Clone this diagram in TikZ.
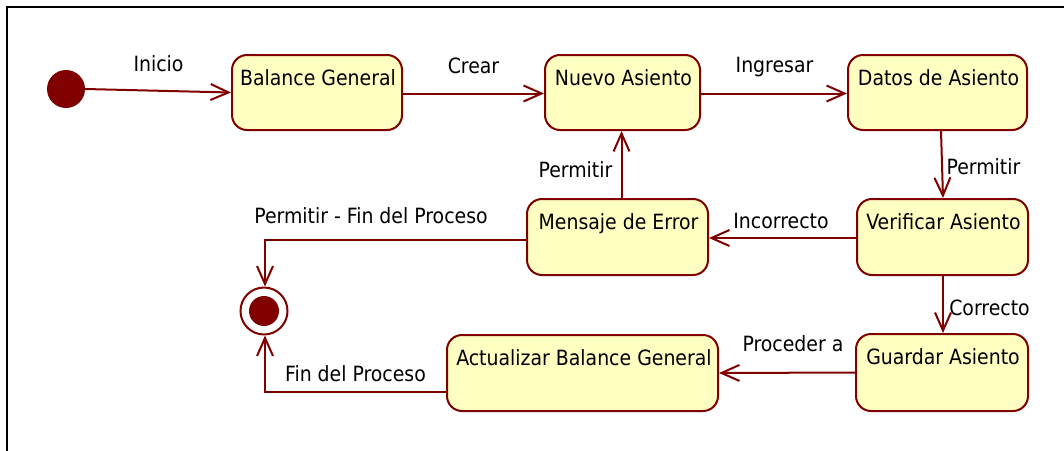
\documentclass[tikz,border=0pt]{standalone}
\usepackage{fontspec}
\setmainfont{DejaVu Sans Condensed}
\usetikzlibrary{arrows.meta}
\definecolor{umlred}{RGB}{128,0,0}
\definecolor{umlfill}{RGB}{255,255,194}
\begin{document}
\begin{tikzpicture}[x=1pt,y=-1pt,
  every node/.style={font=\fontsize{21}{24}\selectfont, text=black},
  statebox/.style={draw=umlred, fill=umlfill, line width=2pt, rounded corners=15pt, inner sep=0pt},
  stxt/.style={anchor=base, inner sep=0pt},
  lbl/.style={anchor=base, inner sep=0pt},
  arr/.style={draw=umlred, line width=2pt, -{Straight Barb[length=18pt,width=16pt,line width=2pt]}},
  initstate/.style={circle, fill=umlred, minimum size=38pt, inner sep=0pt},
  finstate/.style={circle, draw=umlred, line width=2pt, fill=white, minimum size=47pt, inner sep=0pt},
  finin/.style={circle, fill=umlred, minimum size=30pt, inner sep=0pt}
]
\useasboundingbox (0,0) rectangle (1064,450);
% frame
\draw[line width=2pt, black] (7,452) -- (7,7) -- (1066,7);

% states
\node[statebox, minimum width=170pt, minimum height=75pt] (bal) at (317,92.5) {};
\node[stxt] (balt) at (318,85) {Balance General};
\node[statebox, minimum width=155pt, minimum height=75pt] (nuevo) at (622.5,92.5) {};
\node[stxt] (nuevot) at (623.5,85) {Nuevo Asiento};
\node[statebox, minimum width=179pt, minimum height=75pt] (datos) at (937.5,92.5) {};
\node[stxt] (datost) at (938.5,85) {Datos de Asiento};
\node[statebox, minimum width=171pt, minimum height=76pt] (verif) at (942.5,237) {};
\node[stxt] (verift) at (943.5,229) {Verificar Asiento};
\node[statebox, minimum width=181pt, minimum height=76pt] (mens) at (617.5,237) {};
\node[stxt] (menst) at (618.5,229) {Mensaje de Error};
\node[statebox, minimum width=172pt, minimum height=77pt] (guard) at (942,372.5) {};
\node[stxt] (guardt) at (943,364) {Guardar Asiento};
\node[statebox, minimum width=271pt, minimum height=76pt] (act) at (582.5,373) {};
\node[stxt] (actt) at (584,365) {Actualizar Balance General};

% pseudo states
\node[initstate] (ini) at (66,89) {};
\node[finstate] (fin) at (264,311) {};
\node[finin] (finc) at (fin.center) {};

% transitions
\draw[arr] (ini.east) -- (bal.west);
\draw[arr] ([yshift=-1pt]bal.east) -- ([yshift=-1pt]nuevo.west);
\draw[arr] ([yshift=-1pt]nuevo.east) -- ([yshift=-1pt]datos.west);
\draw[arr] ([xshift=3.5pt]datos.south) -- ([xshift=0.5pt]verif.north);
\draw[arr] ([yshift=-1pt]verif.west) -- ([yshift=-1pt]mens.east);
\draw[arr] ([xshift=4pt]mens.north) -- ([xshift=-1pt]nuevo.south);
\draw[arr] ([yshift=-3pt]mens.west) -| ([xshift=1pt]fin.north);
\draw[arr] ([xshift=0.5pt]verif.south) -- ([xshift=1pt]guard.north);
\draw[arr] (guard.west) -- (act.east);
\draw[arr] ([yshift=-19pt]act.west) -| ([xshift=1pt]fin.south);

% labels
\node[lbl] (l1) at (158.5,71) {Inicio};
\node[lbl] (l2) at (473.5,73) {Crear};
\node[lbl] (l3) at (774.5,72) {Ingresar};
\node[lbl] (l4) at (983.5,174) {Permitir};
\node[lbl] (l5) at (575.5,177) {Permitir};
\node[lbl] (l6) at (781,228) {Incorrecto};
\node[lbl] (l7) at (371,223) {Permitir - Fin del Proceso};
\node[lbl] (l8) at (989.5,315) {Correcto};
\node[lbl] (l9) at (793,351) {Proceder a};
\node[lbl] (l10) at (355.5,381) {Fin del Proceso};
\end{tikzpicture}
\end{document}
